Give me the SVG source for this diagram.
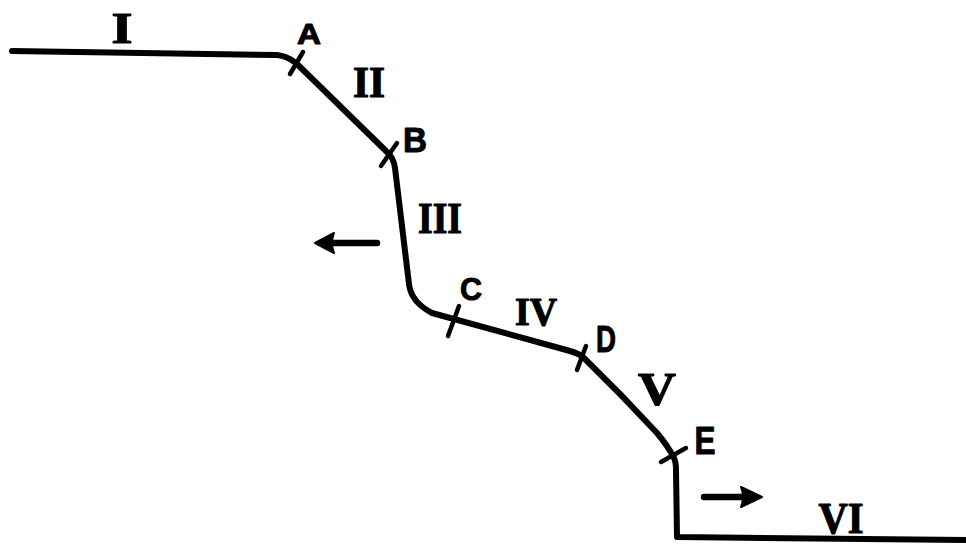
<svg xmlns="http://www.w3.org/2000/svg" width="966" height="544" viewBox="0 0 966 544">
<defs>
<style>
.line{fill:none;stroke:#000;stroke-width:6;stroke-linecap:round;stroke-linejoin:round}
.tick{fill:none;stroke:#000;stroke-width:4.5;stroke-linecap:round}
.shaft{fill:none;stroke:#000;stroke-width:6.5;stroke-linecap:round}
.head{fill:#000;stroke:#000;stroke-width:2;stroke-linejoin:round}
.let{font-family:"Liberation Sans",Arial,sans-serif;font-weight:bold;fill:#000;stroke:#000;stroke-width:1;stroke-linejoin:round;text-anchor:middle}
.num{font-family:"Liberation Serif","Times New Roman",serif;font-weight:bold;fill:#000;stroke:#000;stroke-width:1.2;stroke-linejoin:round;text-anchor:middle}
</style>
</defs>
<rect width="966" height="544" fill="#fff"/>
<g id="profile">
<path class="line" d="M12 51 L277 55 Q287 56 296 63 L386 151 Q394 158 395 168 L409 284 Q411 302 432 313 L570 351 Q578 353 584 358 Q622 395 657 433 Q668 446 674 458 Q676 462 676 470 L677 537 L966 540"/>
</g>
<g id="ticks">
<line class="tick" x1="290" y1="74" x2="303" y2="52"/>
<line class="tick" x1="381" y1="166" x2="397" y2="143"/>
<line class="tick" x1="448" y1="336" x2="459" y2="306"/>
<line class="tick" x1="577" y1="370" x2="586" y2="346"/>
<line class="tick" x1="661" y1="462" x2="686" y2="448"/>
</g>
<g id="labels">
<text class="let" x="309" y="44" font-size="29" textLength="24" lengthAdjust="spacingAndGlyphs">A</text>
<text class="let" x="415" y="152" font-size="35" textLength="24" lengthAdjust="spacingAndGlyphs">B</text>
<text class="let" x="471" y="300" font-size="32" textLength="22" lengthAdjust="spacingAndGlyphs">C</text>
<text class="let" x="606" y="352" font-size="37" textLength="20" lengthAdjust="spacingAndGlyphs">D</text>
<text class="let" x="705" y="454" font-size="38" textLength="21" lengthAdjust="spacingAndGlyphs">E</text>
</g>
<g id="numerals">
<text class="num" x="122" y="43" font-size="45" textLength="21" lengthAdjust="spacingAndGlyphs">I</text>
<text class="num" x="369" y="97" font-size="44" textLength="32" lengthAdjust="spacingAndGlyphs">II</text>
<text class="num" x="440" y="233" font-size="45" textLength="44" lengthAdjust="spacingAndGlyphs">III</text>
<text class="num" x="536" y="325" font-size="41" textLength="42" lengthAdjust="spacingAndGlyphs">IV</text>
<text class="num" x="657" y="405" font-size="47" textLength="38" lengthAdjust="spacingAndGlyphs">V</text>
<text class="num" x="841" y="533" font-size="45" textLength="45" lengthAdjust="spacingAndGlyphs">VI</text>
</g>
<g id="arrows">
<line class="shaft" x1="377" y1="243" x2="328" y2="243"/>
<path class="head" d="M315 243 L334 233 Q330 243 334 253 Z"/>
<line class="shaft" x1="704" y1="497" x2="748" y2="497"/>
<path class="head" d="M762 497 L741 487 Q745 497 741 507 Z"/>
</g>
</svg>
